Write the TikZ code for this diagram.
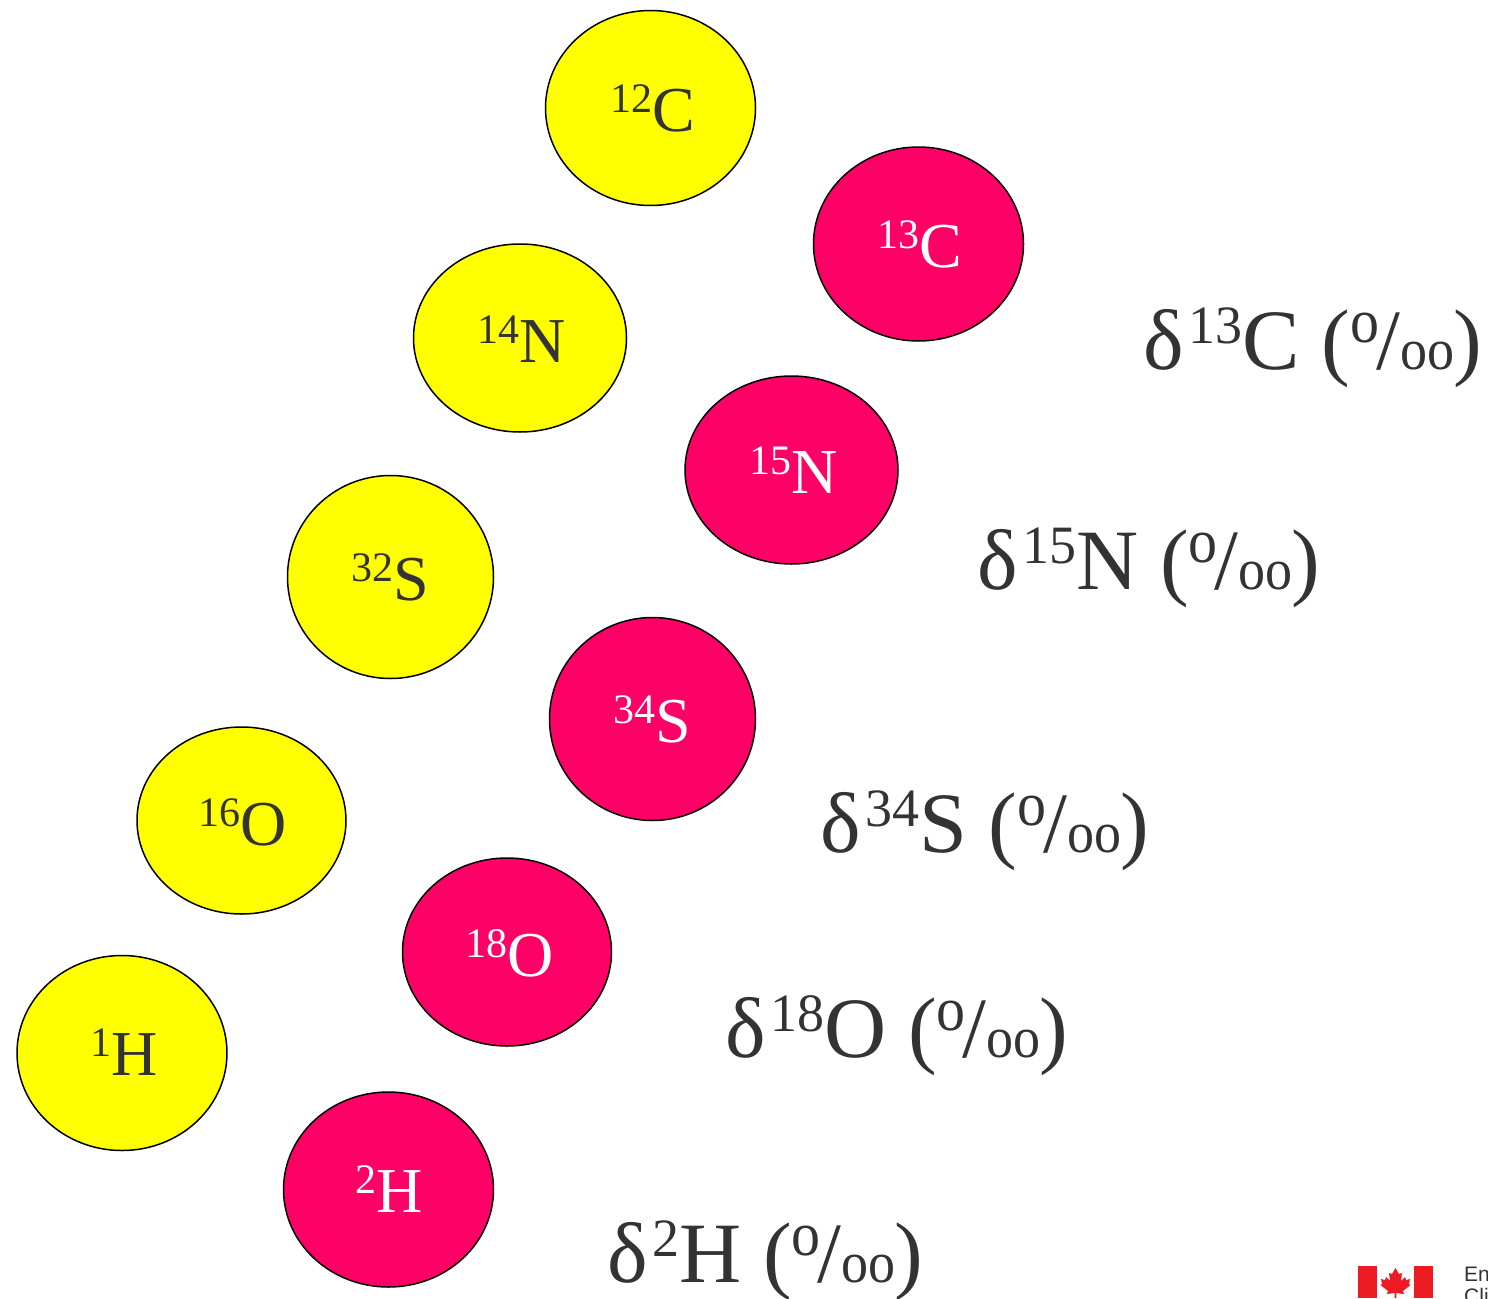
\documentclass[tikz,border=0pt]{standalone}
\usepackage{fontspec}
\usepackage{graphicx}
\setmainfont{Liberation Serif}
\newfontfamily\logofont{Liberation Sans}
\usetikzlibrary{shapes.geometric}
\definecolor{isoink}{HTML}{333333}
\definecolor{isopink}{HTML}{FF0066}
\definecolor{isoyellow}{HTML}{FFFF00}
\definecolor{flagred}{HTML}{ED1C24}
\newcommand{\isotxt}[2]{{\fontsize{42}{42}\selectfont\raisebox{19pt}{#1}}{\fontsize{64}{64}\selectfont #2}}
\newcommand{\deltatxt}[2]{{\fontsize{86}{86}\selectfont δ\kern5pt\raisebox{26pt}{\fontsize{54}{54}\selectfont #1}#2 (\raisebox{27pt}{\scalebox{1}[1.08]{\fontsize{58}{58}\selectfont o}}\kern-3pt/\kern0pt\scalebox{1}[1.08]{\fontsize{54}{54}\selectfont oo}\kern-1pt)}}
\tikzset{
  x=1pt,y=-1pt,
  atomlight/.style={ellipse,draw=black,line width=1.5pt,fill=isoyellow,inner sep=0pt},
  atomheavy/.style={ellipse,draw=black,line width=1.5pt,fill=isopink,inner sep=0pt},
  isodark/.style={anchor=base west,inner sep=0pt,text=isoink},
  isowhite/.style={anchor=base west,inner sep=0pt,text=white},
  ratio/.style={anchor=base west,inner sep=0pt,text=isoink},
}
\begin{document}
\begin{tikzpicture}
\useasboundingbox (0,0) rectangle (1488,1298);
\clip (0,0) rectangle (1488,1298);
\fill[white] (0,0) rectangle (1488,1298);
% light isotopes
\node[atomlight,minimum width=210pt,minimum height=195pt] (c12) at (650.5,108) {};
\node[atomlight,minimum width=213pt,minimum height=188pt] (n14) at (520,338) {};
\node[atomlight,minimum width=206pt,minimum height=203pt] (s32) at (390.5,577) {};
\node[atomlight,minimum width=209pt,minimum height=187pt] (o16) at (241.5,820.5) {};
\node[atomlight,minimum width=210pt,minimum height=195pt] (h1) at (122,1053) {};
% heavy isotopes
\node[atomheavy,minimum width=210pt,minimum height=194pt] (c13) at (918.5,244) {};
\node[atomheavy,minimum width=213pt,minimum height=188pt] (n15) at (791.5,470) {};
\node[atomheavy,minimum width=206pt,minimum height=203pt] (s34) at (652.5,719) {};
\node[atomheavy,minimum width=209pt,minimum height=188pt] (o18) at (507,952) {};
\node[atomheavy,minimum width=210pt,minimum height=195pt] (h2) at (388.5,1189.5) {};
% atom labels
\node[isodark] (tc12) at (610,131) {\isotxt{12}{C}};
\node[isodark] (tn14) at (477,362) {\isotxt{14}{N}};
\node[isodark] (ts32) at (351,600) {\isotxt{32}{S}};
\node[isodark] (to16) at (198,845) {\isotxt{16}{O}};
\node[isodark] (th1) at (90,1075) {\isotxt{1}{H}};
\node[isowhite] (tc13) at (877,267) {\isotxt{13}{C}};
\node[isowhite] (tn15) at (749,493) {\isotxt{15}{N}};
\node[isowhite] (ts34) at (613,742) {\isotxt{34}{S}};
\node[isowhite] (to18) at (465,976) {\isotxt{18}{O}};
\node[isowhite] (th2) at (355,1212) {\isotxt{2}{H}};
% delta labels
\node[ratio] (dc) at (1143,369) {\deltatxt{13}{C}};
\node[ratio] (dn) at (977,589) {\deltatxt{15}{N}};
\node[ratio] (ds) at (820,852) {\deltatxt{34}{S}};
\node[ratio] (do) at (725,1057) {\deltatxt{18}{O}};
\node[ratio] (dh) at (607,1282) {\deltatxt{2}{H}};
% logo
\fill[flagred] (1358,1266) rectangle (1377,1298);
\fill[flagred] (1414,1266) rectangle (1433,1298);
\fill[flagred] (1395.5,1268) -- (1399,1274) -- (1402,1273) -- (1401,1281) -- (1405,1277) -- (1406,1280) -- (1410,1279) -- (1409,1284) -- (1410.5,1285) -- (1403,1291) -- (1404,1294) -- (1396.3,1293) -- (1396.3,1298) -- (1394.7,1298) -- (1394.7,1293) -- (1387,1294) -- (1388,1291) -- (1380.5,1285) -- (1382,1284) -- (1381,1279) -- (1385,1280) -- (1386,1277) -- (1390,1281) -- (1389,1273) -- (1392,1274) -- cycle;
\node[anchor=base west,inner sep=0pt,text=isoink,font=\logofont\fontsize{21}{21}\selectfont] (en) at (1464,1281) {En};
\node[anchor=base west,inner sep=0pt,text=isoink,font=\logofont\fontsize{21}{21}\selectfont] (cl) at (1464,1303) {Cli};
\end{tikzpicture}
\end{document}
